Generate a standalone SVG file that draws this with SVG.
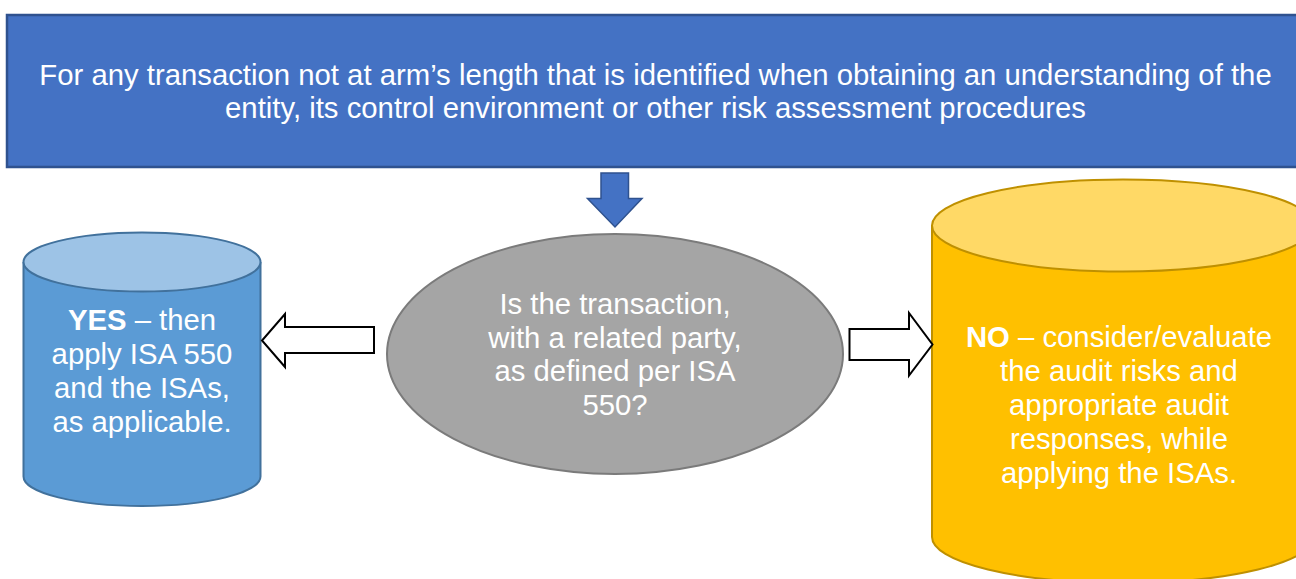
<svg xmlns="http://www.w3.org/2000/svg" width="1296" height="579" viewBox="0 0 1296 579">
<style>
text{font-family:"Liberation Sans",Arial,sans-serif;fill:#ffffff;text-anchor:middle;font-size:29.3px}
.bold{font-weight:bold}
.outline{fill:#ffffff;stroke:#000000;stroke-width:2}
</style>
<rect width="1296" height="579" fill="#ffffff"/>
<g id="top-box">
<rect x="7" y="15" width="1298" height="152" fill="#4472C4" stroke="#2F528F" stroke-width="2.5"/>
<text x="655.5" y="85">For any transaction not at arm’s length that is identified when obtaining an understanding of the</text>
<text x="655.5" y="118">entity, its control environment or other risk assessment procedures</text>
</g>
<g id="question">
<ellipse cx="615" cy="354" rx="228" ry="120" fill="#A5A5A5" stroke="#7B7B7B" stroke-width="2"/>
<text x="615" y="314">Is the transaction,</text>
<text x="615" y="347.5">with a related party,</text>
<text x="615" y="381">as defined per ISA</text>
<text x="615" y="415">550?</text>
</g>
<g id="yes">
<path d="M23.5,262 V476.5 A118.5,29.5 0 0 0 260.5,476.5 V262" fill="#5B9BD5" stroke="#41719C" stroke-width="2"/>
<ellipse cx="142" cy="262" rx="118.5" ry="29.5" fill="#9DC3E6" stroke="#41719C" stroke-width="2"/>
<text x="142" y="330"><tspan class="bold">YES</tspan> – then</text>
<text x="142" y="364">apply ISA 550</text>
<text x="142" y="398">and the ISAs,</text>
<text x="142" y="432">as applicable.</text>
</g>
<g id="no">
<path d="M932,225.5 V537 A191,46 0 0 0 1314,537 V225.5" fill="#FFC000" stroke="#BF9000" stroke-width="2"/>
<ellipse cx="1123" cy="225.5" rx="191" ry="46" fill="#FFD966" stroke="#BF9000" stroke-width="2"/>
<text x="1119" y="347"><tspan class="bold">NO</tspan> – consider/evaluate</text>
<text x="1119" y="381">the audit risks and</text>
<text x="1119" y="415">appropriate audit</text>
<text x="1119" y="449">responses, while</text>
<text x="1119" y="483">applying the ISAs.</text>
</g>
<g id="connectors">
<path d="M601,173 H628.5 V198.5 H642 L615,227 L587.5,198.5 H601 Z" fill="#4472C4" stroke="#2F528F" stroke-width="1.5"/>
<path class="outline" d="M374,327 H285 V314 L262,340.5 L285,367 V353 H374 Z"/>
<path class="outline" d="M849.5,329 H909 V313 L932.5,344.5 L909,375.5 V360 H849.5 Z"/>
</g>
</svg>
